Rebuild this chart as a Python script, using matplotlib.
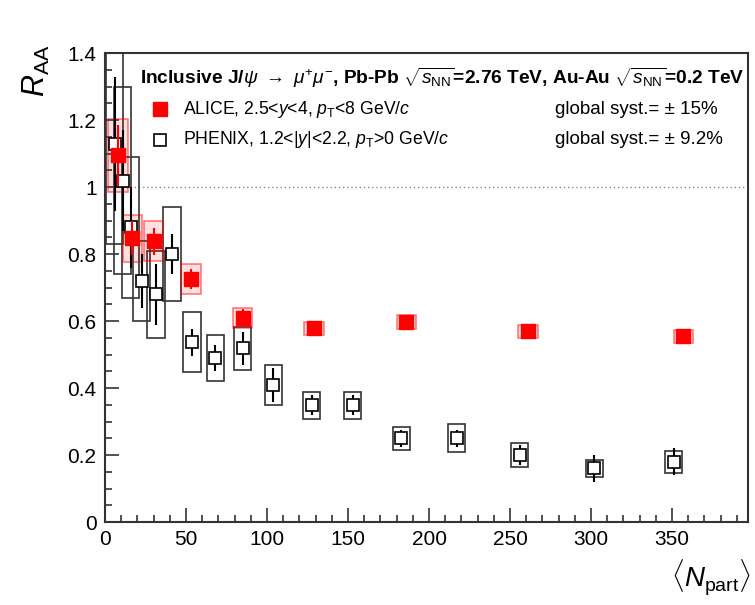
import matplotlib
matplotlib.use("Agg")
import matplotlib.pyplot as plt
from matplotlib.patches import Rectangle
from matplotlib.ticker import MultipleLocator
import numpy as np

plt.rcParams['font.family'] = ['Liberation Sans', 'DejaVu Sans']
plt.rcParams['mathtext.fontset'] = 'custom'
plt.rcParams['mathtext.rm'] = 'Liberation Sans'
plt.rcParams['mathtext.it'] = 'Liberation Sans:italic'
plt.rcParams['mathtext.bf'] = 'Liberation Sans:bold'
plt.rcParams['mathtext.sf'] = 'Liberation Sans'

# ALICE Pb-Pb 2.76 TeV, 2.5<y<4
alice_npart = [8, 17, 30, 53, 85, 129, 186, 261, 357]
alice_raa = [1.095, 0.848, 0.839, 0.725, 0.61, 0.579, 0.597, 0.570, 0.555]
alice_stat = [0.09, 0.05, 0.04, 0.03, 0.025, 0.02, 0.015, 0.015, 0.015]
alice_syst = [0.11, 0.07, 0.06, 0.045, 0.03, 0.02, 0.02, 0.02, 0.02]

# PHENIX Au-Au 0.2 TeV, 1.2<|y|<2.2
phenix_npart = [6, 11, 16, 22.8, 31.5, 41.4, 53.7, 68, 85, 104, 127.6, 153, 183, 217, 256, 302, 351]
phenix_raa = [1.13, 1.02, 0.88, 0.72, 0.68, 0.80, 0.537, 0.49, 0.519, 0.409, 0.349, 0.349, 0.25, 0.25, 0.20, 0.161, 0.18]
phenix_stat = [0.2, 0.15, 0.12, 0.08, 0.09, 0.06, 0.04, 0.04, 0.05, 0.05, 0.03, 0.03, 0.025, 0.025, 0.03, 0.04, 0.04]
phenix_syst = [0.3, 0.28, 0.21, 0.12, 0.13, 0.14, 0.09, 0.07, 0.065, 0.06, 0.04, 0.04, 0.035, 0.042, 0.036, 0.025, 0.032]

alice_halfw = 6.0
phenix_halfw = 5.3

fig = plt.figure(figsize=(7.55, 6.05), dpi=100)
ax = fig.add_axes([0.139, 0.137, 0.852, 0.775])

# syst boxes
for n, r, s in zip(phenix_npart, phenix_raa, phenix_syst):
    ax.add_patch(Rectangle((n - phenix_halfw, r - s), 2 * phenix_halfw, 2 * s,
                           fill=False, edgecolor='#333333', lw=1.2, zorder=2))
for n, r, s in zip(alice_npart, alice_raa, alice_syst):
    ax.add_patch(Rectangle((n - alice_halfw, r - s), 2 * alice_halfw, 2 * s,
                           facecolor=(1, 0, 0, 0.12), edgecolor=(1, 0, 0, 0.5), lw=1.2, zorder=3))

# stat errors + markers
ax.errorbar(phenix_npart, phenix_raa, yerr=phenix_stat, fmt='s', ms=8.5, mfc='white',
            mec='black', mew=1.2, ecolor='black', elinewidth=1.5, capsize=0, zorder=4)
ax.errorbar(alice_npart, alice_raa, yerr=alice_stat, fmt='s', ms=10, mfc='red',
            mec='red', ecolor='red', elinewidth=1.5, capsize=0, zorder=5)

ax.axhline(1.0, color='#888888', lw=1, ls=(0, (1, 2)), zorder=1)

ax.set_xlim(0, 397)
ax.set_ylim(0, 1.4)
ax.xaxis.set_major_locator(MultipleLocator(50))
ax.xaxis.set_minor_locator(MultipleLocator(10))
ax.yaxis.set_major_locator(MultipleLocator(0.2))
ax.yaxis.set_minor_locator(MultipleLocator(0.05))
ax.set_xticks([0, 50, 100, 150, 200, 250, 300, 350])
ax.set_yticks([0, 0.2, 0.4, 0.6, 0.8, 1.0, 1.2, 1.4])
ax.set_yticklabels(['0', '0.2', '0.4', '0.6', '0.8', '1', '1.2', '1.4'])
ax.tick_params(which='both', direction='in', top=False, right=False, labelsize=15, width=1.2, color='#333333')
ax.tick_params(which='major', length=10, pad=6)
ax.tick_params(which='minor', length=5)
for sp in ax.spines.values():
    sp.set_linewidth(1.5)
    sp.set_color('#333333')

# legend
ax.text(0.054, 0.947, r"Inclusive J/$\psi$ $\rightarrow$ $\mu^{+}\mu^{-}$, Pb-Pb $\sqrt{s_{\rm NN}}$=2.76 TeV, Au-Au $\sqrt{s_{\rm NN}}$=0.2 TeV",
        transform=ax.transAxes, fontsize=13.8, fontweight='bold', va='center', ha='left')
ax.plot([0.0855], [0.881], 's', ms=10, mfc='red', mec='red', transform=ax.transAxes, clip_on=False)
ax.plot([0.0855], [0.815], 's', ms=8.5, mfc='white', mec='black', mew=1.2, transform=ax.transAxes, clip_on=False)
ax.text(0.121, 0.881, r"ALICE, 2.5<$y$<4, $p_{\rm T}$<8 GeV/$c$", transform=ax.transAxes,
        fontsize=12.7, va='center', ha='left')
ax.text(0.121, 0.815, r"PHENIX, 1.2<|$y$|<2.2, $p_{\rm T}$>0 GeV/$c$", transform=ax.transAxes,
        fontsize=12.7, va='center', ha='left')
ax.text(0.70, 0.881, "global syst.= ± 15%", transform=ax.transAxes, fontsize=13.5, va='center', ha='left')
ax.text(0.70, 0.815, "global syst.= ± 9.2%", transform=ax.transAxes, fontsize=13.5, va='center', ha='left')

fig.text(0.048, 0.926, r"$R_{\rm AA}$", rotation=90, fontsize=22, ha='center', va='top')
fig.text(0.995, 0.045, r"$\langle N_{\rm part}\rangle$", fontsize=20, ha='right', va='center')

fig.savefig("out.png", dpi=100)
